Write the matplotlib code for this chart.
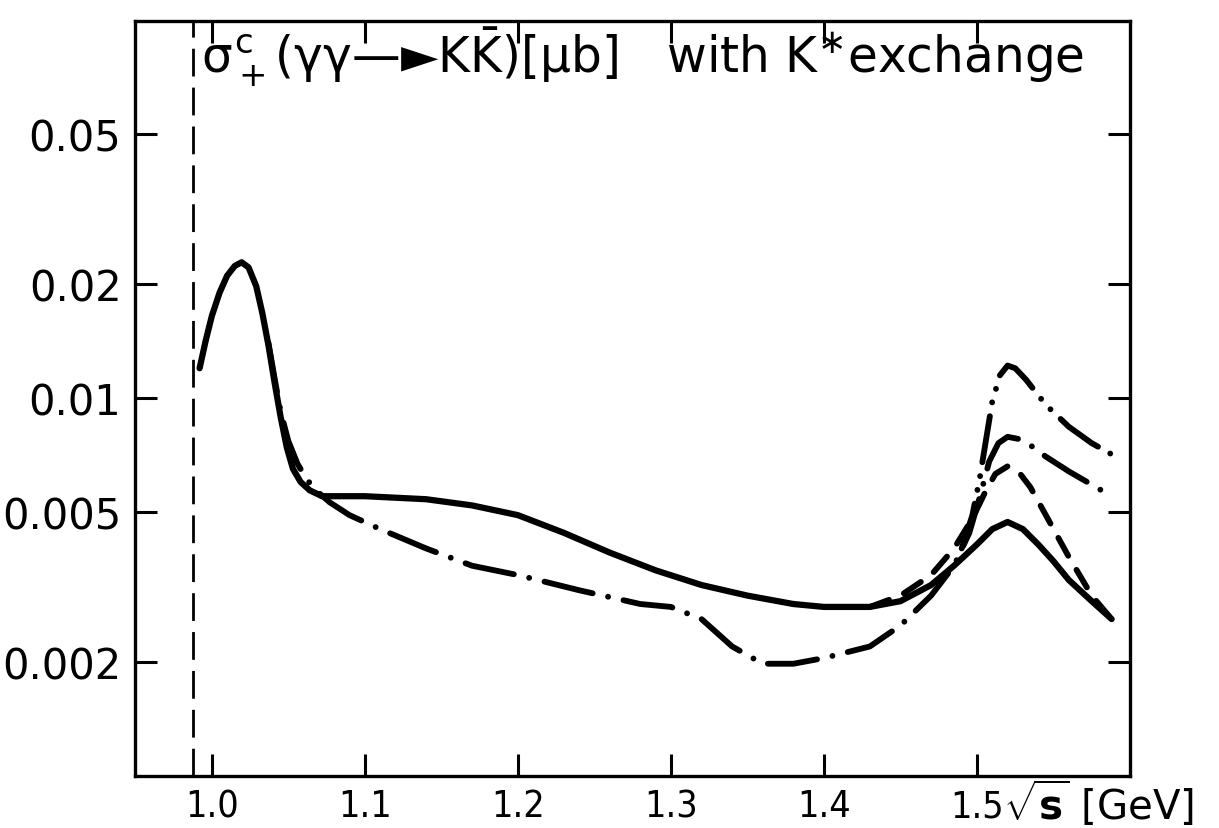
import matplotlib
matplotlib.use("Agg")
import matplotlib.pyplot as plt
import matplotlib.transforms as mtransforms

plt.rcParams['font.family'] = ['DejaVu Sans']
plt.rcParams['mathtext.fontset'] = 'custom'
plt.rcParams['mathtext.rm'] = 'DejaVu Sans'
plt.rcParams['mathtext.it'] = 'DejaVu Sans'
plt.rcParams['mathtext.bf'] = 'DejaVu Sans:bold'

# solid curve
x_solid = [0.992, 0.996, 1.000, 1.005, 1.010, 1.015, 1.0195, 1.024, 1.029, 1.033, 1.037,
           1.041, 1.045, 1.049, 1.053, 1.058, 1.064, 1.072, 1.085, 1.10, 1.14, 1.17,
           1.20, 1.23, 1.26, 1.29, 1.32, 1.35, 1.38, 1.40, 1.43, 1.45, 1.47, 1.485,
           1.50, 1.51, 1.52, 1.53, 1.54, 1.55, 1.56, 1.575, 1.588]
y_solid = [0.0120, 0.0142, 0.0165, 0.0190, 0.0211, 0.0224, 0.0229, 0.0222, 0.0198, 0.0168, 0.0138,
           0.0110, 0.0089, 0.0074, 0.0065, 0.0060, 0.0057, 0.0055, 0.0055, 0.0055, 0.0054, 0.0052,
           0.0049, 0.0044, 0.0039, 0.0035, 0.0032, 0.0030, 0.00285, 0.0028, 0.0028, 0.0029, 0.0032, 0.0036,
           0.0041, 0.0045, 0.0047, 0.0045, 0.0041, 0.0037, 0.0033, 0.0029, 0.0026]

# dash-dot curve (branches off the solid one)
x_dashdot = [1.037, 1.041, 1.045, 1.050, 1.056, 1.062, 1.068, 1.077, 1.09, 1.11, 1.14, 1.17,
             1.20, 1.24, 1.28, 1.30, 1.32, 1.34, 1.36, 1.38, 1.40, 1.43, 1.45, 1.47, 1.485,
             1.495, 1.502, 1.508, 1.514, 1.52, 1.527, 1.535, 1.545, 1.56, 1.575, 1.588]
y_dashdot = [0.0140, 0.0113, 0.0092, 0.0077, 0.0067, 0.0061, 0.0057, 0.0053, 0.0049, 0.0045, 0.0040, 0.0036,
             0.0034, 0.0031, 0.00285, 0.0028, 0.0026, 0.0022, 0.00198, 0.00198, 0.00205, 0.0022, 0.0025, 0.0030, 0.0036,
             0.0044, 0.0055, 0.0068, 0.0076, 0.0079, 0.0078, 0.0075, 0.0070, 0.0064, 0.0059, 0.0055]

# dash-dot-dot curve
x_dashdotdot = [1.49, 1.497, 1.502, 1.506, 1.51, 1.515, 1.52, 1.525, 1.532, 1.545, 1.56, 1.575, 1.588]
y_dashdotdot = [0.0040, 0.0049, 0.0062, 0.0078, 0.0098, 0.0115, 0.0122, 0.0120, 0.0112, 0.0096, 0.0084, 0.0076, 0.0071]

# dashed curve
x_dashed = [1.43, 1.45, 1.47, 1.485, 1.497, 1.505, 1.512, 1.52, 1.527, 1.535, 1.545, 1.56, 1.575, 1.588]
y_dashed = [0.0028, 0.0030, 0.0034, 0.0040, 0.0048, 0.0056, 0.0063, 0.0066, 0.0064, 0.0058, 0.0049, 0.0038, 0.0030, 0.0026]

threshold = 0.988
x_ticks = [1.0, 1.1, 1.2, 1.3, 1.4, 1.5]
x_ticklabels = ['1.0', '1.1', '1.2', '1.3', '1.4', '1.5']
y_ticks = [0.002, 0.005, 0.01, 0.02, 0.05]
y_ticklabels = ['0.002', '0.005', '0.01', '0.02', '0.05']

fig = plt.figure(figsize=(12.19, 8.29), dpi=100)
ax = fig.add_axes([0.111, 0.063, 0.816, 0.911])

ax.plot(x_solid, y_solid, color='black', lw=4.5, solid_capstyle='round',
        solid_joinstyle='round')
ax.plot(x_dashdot, y_dashdot, color='black', lw=4.2, dashes=(8.5, 2.7, 0.01, 2.7),
        dash_capstyle='round')
ax.plot(x_dashdotdot, y_dashdotdot, color='black', lw=4.2,
        dashes=(8, 2.4, 0.01, 2.4, 0.01, 2.4), dash_capstyle='round')
ax.plot(x_dashed, y_dashed, color='black', lw=4.2, dashes=(3.5, 2.8), dash_capstyle='round')
ax.axvline(threshold, color='black', lw=2.0, dashes=(10, 4))

ax.set_yscale('log')
ax.set_xlim(0.95, 1.6)
ax.set_ylim(0.001, 0.1)

ax.set_xticks(x_ticks)
ax.set_xticklabels(x_ticklabels)
ax.set_yticks(y_ticks)
ax.set_yticklabels(y_ticklabels)
ax.minorticks_off()
ax.tick_params(direction='in', length=16, width=2.2, top=True, right=True,
               pad=9)
ax.tick_params(axis='x', labelsize=27)
ax.tick_params(axis='y', labelsize=30, pad=10)
plt.setp(ax.get_xticklabels(), fontstretch='condensed')
for s in ax.spines.values():
    s.set_linewidth(2.4)

ax.text(1.517, -0.057, r'$\sqrt{\mathbf{s}}$ [GeV]', transform=ax.get_xaxis_transform(),
        fontsize=29, ha='left', va='baseline')

trans = mtransforms.blended_transform_factory(ax.transData, ax.transAxes)
ax.text(0.993, 0.952, r'$\sigma^c_+$(γγ—►K$\bar{\mathrm{K}}$)[μb]   with K$^{\ast}$exchange',
        transform=trans, fontsize=35, ha='left', va='center')

fig.savefig('out.png', dpi=100)
